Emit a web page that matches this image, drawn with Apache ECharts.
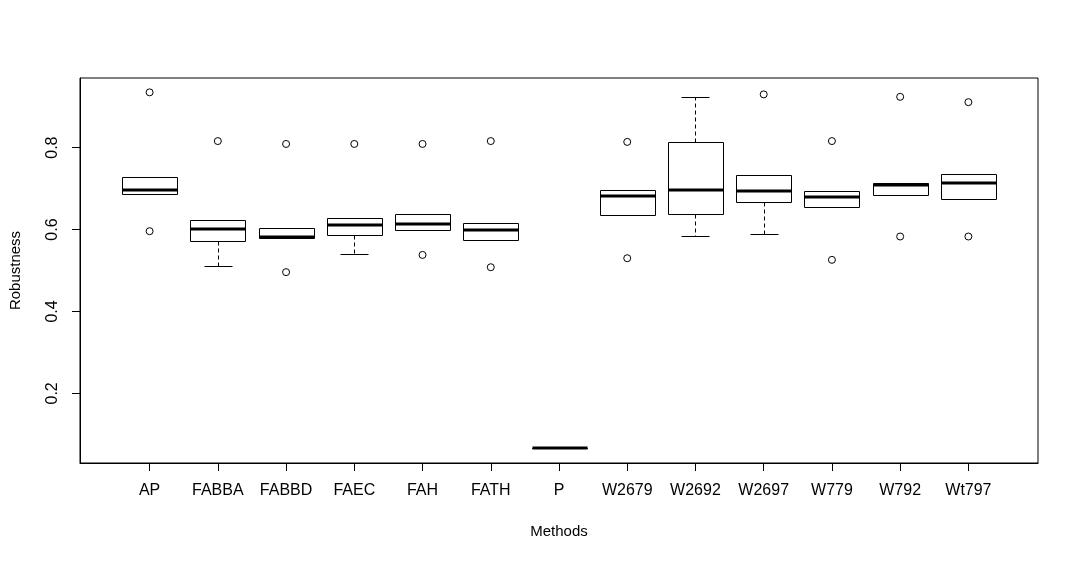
<!DOCTYPE html>
<html>
<head>
<meta charset="utf-8">
<script src="https://cdn.jsdelivr.net/npm/echarts@6/dist/echarts.min.js"></script>
<style>
    html, body { margin: 0; padding: 0; background: #fff; }
    #main { width: 1079px; height: 561px; }
</style>
</head>
<body>
<div id="main"></div>
<script>
// values
var methods = ['AP', 'FABBA', 'FABBD', 'FAEC', 'FAH', 'FATH', 'P', 'W2679', 'W2692', 'W2697', 'W779', 'W792', 'Wt797'];
var lowerWhisker = [0.687, 0.510, 0.579, 0.540, 0.598, 0.574, 0.066, 0.635, 0.584, 0.589, 0.655, 0.684, 0.675];
var q1 = [0.687, 0.571, 0.579, 0.587, 0.598, 0.574, 0.066, 0.635, 0.637, 0.667, 0.655, 0.684, 0.675];
var median = [0.697, 0.601, 0.583, 0.610, 0.613, 0.598, 0.066, 0.681, 0.697, 0.694, 0.679, 0.709, 0.713];
var q3 = [0.728, 0.623, 0.603, 0.628, 0.637, 0.615, 0.066, 0.696, 0.814, 0.733, 0.693, 0.713, 0.735];
var upperWhisker = [0.728, 0.623, 0.603, 0.628, 0.637, 0.615, 0.066, 0.696, 0.923, 0.733, 0.693, 0.713, 0.735];
// outliers: [method index, value]
var outliers = [
    [0, 0.935], [0, 0.596],
    [1, 0.816],
    [2, 0.809], [2, 0.496],
    [3, 0.809],
    [4, 0.809], [4, 0.538],
    [5, 0.816], [5, 0.508],
    [7, 0.814], [7, 0.530],
    [9, 0.930],
    [10, 0.816], [10, 0.526],
    [11, 0.924], [11, 0.583],
    [12, 0.911], [12, 0.583]
];
var yTicks = [0.2, 0.4, 0.6, 0.8];

var font = "'Liberation Sans', Arial, sans-serif";
var chart = echarts.init(document.getElementById('main'));

var boxData = methods.map(function (m, i) {
    return [i, lowerWhisker[i], q1[i], median[i], q3[i], upperWhisker[i]];
});

function px(v) {
    return Math.round(v) + 0.5;
}

function renderBox(params, api) {
    var x = api.value(0);
    var w = Math.round(api.size([0.8, 0])[0]);
    var sw = Math.round(w / 2);
    var pLo = api.coord([x, api.value(1)]);
    var pQ1 = api.coord([x, api.value(2)]);
    var pMed = api.coord([x, api.value(3)]);
    var pQ3 = api.coord([x, api.value(4)]);
    var pHi = api.coord([x, api.value(5)]);
    var cx = px(pMed[0]);
    var left = px(pMed[0] - w / 2);
    var line = {stroke: '#000', lineWidth: 1, fill: null};
    var dashed = {stroke: '#000', lineWidth: 1, lineDash: [4, 3]};
    return {
        type: 'group',
        children: [
            {type: 'line', shape: {x1: cx, y1: px(pQ3[1]), x2: cx, y2: px(pHi[1])}, style: dashed},
            {type: 'line', shape: {x1: cx, y1: px(pQ1[1]), x2: cx, y2: px(pLo[1])}, style: dashed},
            {type: 'line', shape: {x1: cx - sw / 2, y1: px(pHi[1]), x2: cx + sw / 2, y2: px(pHi[1])}, style: line},
            {type: 'line', shape: {x1: cx - sw / 2, y1: px(pLo[1]), x2: cx + sw / 2, y2: px(pLo[1])}, style: line},
            {type: 'rect', shape: {x: left, y: px(pQ3[1]), width: w, height: px(pQ1[1]) - px(pQ3[1])},
                style: {stroke: '#000', lineWidth: 1, fill: '#fff'}},
            {type: 'line', shape: {x1: left, y1: Math.round(pMed[1]), x2: left + w, y2: Math.round(pMed[1])},
                style: {stroke: '#000', lineWidth: 3}}
        ]
    };
}

chart.setOption({
    animation: false,
    backgroundColor: '#fff',
    textStyle: {fontFamily: font},
    grid: {
        show: true,
        left: 78, right: 41, top: 78, bottom: 98,
        borderColor: '#000', borderWidth: 1
    },
    xAxis: {
        type: 'value',
        min: -1.02,
        max: 13.02,
        name: 'Methods',
        nameLocation: 'middle',
        nameGap: 61,
        nameTextStyle: {color: '#000', fontSize: 15, fontFamily: font},
        splitLine: {show: false},
        axisLine: {show: true, onZero: false, lineStyle: {color: '#000'}},
        axisTick: {
            show: true, length: 8, lineStyle: {color: '#000'},
            customValues: methods.map(function (m, i) { return i; })
        },
        axisLabel: {
            color: '#000', fontSize: 16, fontFamily: font, margin: 20,
            customValues: methods.map(function (m, i) { return i; }),
            formatter: function (v) { return methods[Math.round(v)]; }
        }
    },
    yAxis: {
        type: 'value',
        min: 0.030,
        max: 0.970,
        name: 'Robustness',
        nameLocation: 'middle',
        nameGap: 57,
        nameRotate: 90,
        nameTextStyle: {color: '#000', fontSize: 15, fontFamily: font},
        splitLine: {show: false},
        axisLine: {show: true, onZero: false, lineStyle: {color: '#000'}},
        axisTick: {show: true, length: 8, lineStyle: {color: '#000'}, customValues: yTicks},
        axisLabel: {
            color: '#000', fontSize: 16, fontFamily: font, margin: 19, rotate: 90,
            customValues: yTicks,
            formatter: function (v) { return v.toFixed(1); }
        }
    },
    series: [
        {
            type: 'custom',
            renderItem: renderBox,
            data: boxData,
            encode: {x: 0, y: [1, 2, 3, 4, 5]},
            z: 2
        },
        {
            type: 'scatter',
            data: outliers,
            symbol: 'circle',
            symbolSize: 7,
            itemStyle: {color: '#fff', borderColor: '#000', borderWidth: 1, opacity: 1},
            z: 3
        }
    ]
});
</script>
</body>
</html>
